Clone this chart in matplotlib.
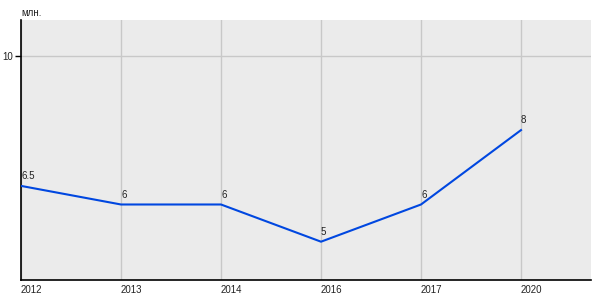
import matplotlib
matplotlib.use("Agg")
import matplotlib.pyplot as plt

categories = ["2012", "2013", "2014", "2016", "2017", "2020"]
values = [6.5, 6, 6, 5, 6, 8]
labels = ["6.5", "6", "6", "5", "6", "8"]
unit = "млн."

plt.rcParams['font.family'] = ['Liberation Sans', 'DejaVu Sans']

fig = plt.figure(figsize=(6, 3), dpi=100)
ax = fig.add_axes([21/600, 20/300, 570/600, 260/300])
ax.set_facecolor('#ebebeb')
x = list(range(len(categories)))
ax.plot(x, values, color='#0047e0', lw=1.5, zorder=3)
for xi, v, lab in zip(x, values, labels):
    ax.annotate(lab, (xi, v), xytext=(0, 7), textcoords='offset points',
                ha='left', va='center', fontsize=7, color='#222222', zorder=4)

ax.set_xlim(0, 5.7)
ax.set_ylim(3.97, 10.96)
ax.set_xticks(x)
ax.set_xticklabels(categories, ha='left', fontsize=7, color='#222222')
ax.set_yticks([10])
ax.set_yticklabels(['10'], fontsize=7, color='#222222')
ax.tick_params(axis='x', length=0, pad=3.5)
ax.tick_params(axis='y', length=4, width=1, color='black', pad=2)
ax.grid(True, color='#c8c8c8', lw=1)
ax.set_axisbelow(True)
for s in ['top', 'right']:
    ax.spines[s].set_visible(False)
for s in ['left', 'bottom']:
    ax.spines[s].set_color('black')
    ax.spines[s].set_linewidth(1.2)
fig.text(21/600, 1 - 13/300, unit, fontsize=7, color='#222222', ha='left', va='center')
fig.savefig('out.png', dpi=100)
